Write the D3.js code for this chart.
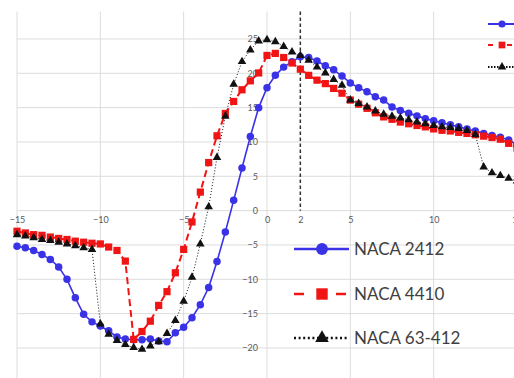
<!DOCTYPE html>
<html>
<head>
<meta charset="utf-8">
<script src="https://cdn.jsdelivr.net/npm/d3@7"></script>
<style>
  html, body { margin: 0; padding: 0; background: #fff; }
  svg { display: block; font-family: Lato, "Open Sans", sans-serif; }
</style>
</head>
<body>
<div id="chart"></div>
<script>
// angle of attack (deg)
const alpha = [
  -15, -14.5, -14, -13.5, -13, -12.5, -12, -11.5, -11, -10.5,
  -10, -9.5, -9, -8.5, -8, -7.5, -7, -6.5, -6, -5.5,
  -5, -4.5, -4, -3.5, -3, -2.5, -2, -1.5, -1, -0.5,
  0, 0.5, 1, 1.5, 2, 2.5, 3, 3.5, 4, 4.5,
  5, 5.5, 6, 6.5, 7, 7.5, 8, 8.5, 9, 9.5,
  10, 10.5, 11, 11.5, 12, 12.5, 13, 13.5, 14, 14.5, 15
];

const naca2412 = [
  -5.2, -5.4, -5.8, -6.4, -7.1, -8.2, -10.0, -12.7, -15.1, -16.2,
  -16.8, -17.5, -18.4, -18.7, -18.8, -18.8, -18.7, -19.0, -19.1, -17.8,
  -17.0, -15.6, -13.7, -11.2, -7.4, -3.1, 1.5, 6.2, 10.8, 15.0,
  17.9, 19.7, 20.9, 21.7, 22.4, 22.3, 21.8, 21.1, 20.5, 19.6,
  18.6, 17.9, 17.3, 16.6, 16.1, 15.1, 14.6, 14.2, 13.8, 13.4,
  13.1, 12.8, 12.5, 12.2, 11.9, 11.6, 11.25, 10.95, 10.7, 10.3, 9.6
];

const naca4410 = [
  -3.0, -3.25, -3.5, -3.6, -3.85, -4.05, -4.2, -4.45, -4.6, -4.75,
  -4.85, -5.3, -5.8, -7.35, -18.75, -17.6, -16.1, -13.8, -11.8, -9.05,
  -5.65, -1.65, 2.7, 7.0, 10.9, 14.15, 15.9, 17.6, 18.9, 20.05,
  22.6, 22.9, 22.3, 21.5, 20.6, 19.7, 19.0, 18.5, 17.8, 17.1,
  16.1, 15.5, 14.9, 14.25, 13.65, 13.3, 12.9, 12.65, 12.4, 12.2,
  11.9, 11.7, 11.6, 11.4, 11.25, 11.05, 10.85, 10.65, 10.4, 9.8, 9.1
];

const naca63412 = [
  -3.5, -3.7, -3.95, -4.2, -4.35, -4.6, -4.85, -5.1, -5.4, -5.65,
  -16.5, -18.0, -18.9, -19.5, -19.95, -20.2, -19.7, -19.1, -17.9, -16.0,
  -13.2, -9.7, -4.85, 0.55, 7.75, 13.75, 18.4, 21.7, 23.4, 24.7,
  24.9, 24.6, 23.9, 23.1, 22.6, 21.9, 20.9, 20.05, 19.1, 18.25,
  16.1, 15.6, 15.1, 14.5, 14.05, 13.75, 13.5, 13.25, 12.9, 12.65,
  12.4, 12.2, 12.1, 11.95, 11.65, 11.1, 6.35, 5.5, 5.1, 4.7, 4.3
];

const xTicks = [-15, -10, -5, 0, 2, 5, 10, 15];
const yTicks = [-25, -20, -15, -10, -5, 0, 5, 10, 15, 20, 25];
const refAlpha = 2; // dashed marker line

const seriesNames = ['NACA 2412', 'NACA 4410', 'NACA 63-412'];

const width = 514;
const height = 378;

const x = d3.scaleLinear().domain([-15, 15]).range([17, 517]);
const y = d3.scaleLinear().domain([-25, 29]).range([382.3, 11.5]);

const svg = d3.select('#chart')
  .append('svg')
  .attr('width', width)
  .attr('height', height)
  .attr('viewBox', [0, 0, width, height]);

// grid
const grid = svg.append('g').attr('stroke', '#dcdcdc').attr('stroke-width', 1);

grid.selectAll('.gy')
  .data(yTicks)
  .join('line')
  .attr('x1', x(-15))
  .attr('x2', x(15))
  .attr('y1', d => y(d))
  .attr('y2', d => y(d));

grid.selectAll('.gx')
  .data([-15, -10, -5, 0, 5, 10, 15])
  .join('line')
  .attr('x1', d => x(d))
  .attr('x2', d => x(d))
  .attr('y1', y(29))
  .attr('y2', y(-25.5));

// axes through the origin
svg.append('g')
  .attr('transform', `translate(0,${y(0)})`)
  .call(d3.axisBottom(x).tickValues(xTicks).tickSize(0).tickPadding(6).tickFormat(d3.format('d')))
  .call(g => g.select('.domain').remove())
  .selectAll('text')
  .attr('fill', '#595959')
  .style('font-size', '9px')
  .style('font-family', 'Lato, "Open Sans", sans-serif');

svg.append('g')
  .attr('transform', `translate(${x(0)},0)`)
  .call(d3.axisLeft(y).tickValues(yTicks).tickSize(0).tickPadding(9).tickFormat(d3.format('d')))
  .call(g => g.select('.domain').remove())
  .selectAll('text')
  .attr('fill', '#595959')
  .style('font-size', '9px')
  .style('font-family', 'Lato, "Open Sans", sans-serif');

// dashed line at alpha = 2
svg.append('line')
  .attr('x1', x(refAlpha))
  .attr('x2', x(refAlpha))
  .attr('y1', y(29))
  .attr('y2', y(0))
  .attr('stroke', '#333')
  .attr('stroke-width', 1.5)
  .attr('stroke-dasharray', '3.5,2.5');

const series = [
  { name: seriesNames[0], values: naca2412, color: '#3a32e6', width: 1.6, dash: null, marker: 'circle' },
  { name: seriesNames[1], values: naca4410, color: '#f01414', width: 2, dash: '7,4', marker: 'square' },
  { name: seriesNames[2], values: naca63412, color: '#111', width: 1, dash: '1,2', marker: 'triangle' }
];

const line = d3.line()
  .x((d, i) => x(alpha[i]))
  .y(d => y(d));

function symbolFor(kind, size) {
  const t = kind === 'circle' ? d3.symbolCircle : kind === 'square' ? d3.symbolSquare : d3.symbolTriangle;
  return d3.symbol().type(t).size(size)();
}

const markerSize = { circle: 44, square: 52, triangle: 32 };

series.forEach(s => {
  svg.append('path')
    .datum(s.values)
    .attr('fill', 'none')
    .attr('stroke', s.color)
    .attr('stroke-width', s.width)
    .attr('stroke-dasharray', s.dash)
    .attr('d', line);

  svg.append('g')
    .selectAll('path')
    .data(s.values)
    .join('path')
    .attr('transform', (d, i) => `translate(${x(alpha[i])},${y(d)})`)
    .attr('d', symbolFor(s.marker, markerSize[s.marker]))
    .attr('fill', s.color);
});

// main legend (bottom right)
const legend = svg.append('g');
const legendRows = [249, 294, 338];
series.forEach((s, i) => {
  const row = legend.append('g').attr('transform', `translate(0,${legendRows[i]})`);
  row.append('line')
    .attr('x1', 294).attr('x2', 349)
    .attr('stroke', s.color)
    .attr('stroke-width', i === 0 ? 2.6 : 2.4)
    .attr('stroke-dasharray', i === 0 ? null : i === 1 ? '10,32' : '2,2.6');
  row.append('path')
    .attr('transform', 'translate(322,0)')
    .attr('d', symbolFor(s.marker, i === 0 ? 110 : i === 1 ? 130 : 80))
    .attr('fill', s.color);
  row.append('text')
    .attr('x', 354)
    .attr('y', 6)
    .attr('fill', '#404040')
    .style('font-size', '17px')
    .text(s.name);
});

// second legend, cut by the right edge (only the keys are visible)
const legend2 = svg.append('g');
const legend2Rows = [24, 45, 67];
series.forEach((s, i) => {
  const row = legend2.append('g').attr('transform', `translate(0,${legend2Rows[i]})`);
  row.append('line')
    .attr('x1', 488).attr('x2', 516)
    .attr('stroke', s.color)
    .attr('stroke-width', i === 0 ? 2 : 1.8)
    .attr('stroke-dasharray', i === 0 ? null : i === 1 ? '5,14' : '1.5,1.5');
  row.append('path')
    .attr('transform', 'translate(502,0)')
    .attr('d', symbolFor(s.marker, i === 0 ? 40 : i === 1 ? 45 : 32))
    .attr('fill', s.color);
});
</script>
</body>
</html>
